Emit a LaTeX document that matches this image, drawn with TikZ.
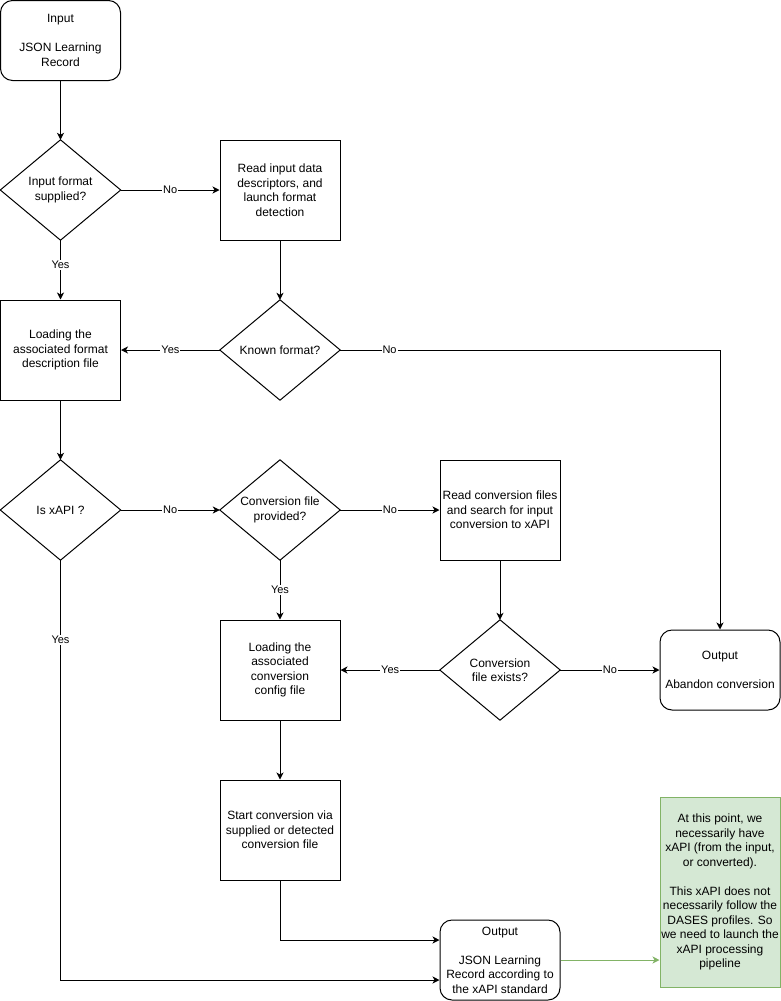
\documentclass[tikz,border=0pt]{standalone}
\usepackage{fontspec}
\setmainfont{Liberation Sans}
\usetikzlibrary{arrows.meta,calc}
\definecolor{notestroke}{HTML}{82B366}
\definecolor{notefill}{HTML}{D5E8D4}
\begin{document}
\begin{tikzpicture}[x=1pt,y=-1pt,
  every node/.style={font=\fontsize{12}{14.5}\selectfont, align=center, inner sep=0pt},
  proc/.style={draw, line width=1pt, minimum width=120pt, minimum height=100pt},
  term/.style={draw, line width=1pt, rounded corners=12pt, minimum width=120pt, minimum height=80pt},
  dec/.style={minimum width=120pt, minimum height=100pt},
  note/.style={draw=notestroke, fill=notefill, line width=1pt, minimum width=120pt, minimum height=190pt},
  lbl/.style={font=\fontsize{11}{13}\selectfont, fill=white, inner sep=1pt},
  conn/.style={line width=1pt, -{Stealth[length=7pt,width=7pt,inset=2pt]}}]
\useasboundingbox (0,0) rectangle (781,1001);

% nodes
\node[term] (inp) at (60.5,40.5) {Input\\[14.5pt]JSON Learning\\Record};
\node[dec] (d1) at (60.5,190) {Input format\\supplied?};
\node[proc] (rd1) at (280,190) {Read input data\\descriptors, and\\launch format\\detection};
\node[dec] (d2) at (280,350) {Known format?};
\node[proc] (ld1) at (60.5,350) {Loading the\\associated format\\description file};
\node[dec] (d3) at (60.5,510) {Is xAPI ?};
\node[dec] (d4) at (280,510) {Conversion file\\provided?};
\node[proc] (rd2) at (500,510) {Read conversion files\\and search for input\\conversion to xAPI};
\node[dec] (d5) at (500,670) {Conversion\\file exists?};
\node[proc] (ld2) at (280,670) {Loading the\\associated\\conversion\\config file};
\node[term] (ab) at (720,670) {Output\\[14.5pt]Abandon conversion};
\node[proc] (st) at (280,830) {Start conversion via\\supplied or detected\\conversion file};
\node[term] (out) at (500,960) {Output\\[14.5pt]JSON Learning\\Record according to\\the xAPI standard};
\node[note] (nt) at (720,892) {At this point, we\\necessarily have\\xAPI (from the input,\\or converted).\\[14.5pt]This xAPI does not\\necessarily follow the\\DASES profiles. So\\we need to launch the\\xAPI processing\\pipeline};

% diamonds
\foreach \d in {d1,d2,d3,d4,d5}
  \draw[line width=1pt] (\d.north) -- (\d.east) -- (\d.south) -- (\d.west) -- cycle;

\coordinate (o1) at ([yshift=20pt]out.west);
\coordinate (o2) at ([yshift=-20pt]out.west);

% connectors
\draw[conn] (inp.south) -- (d1.north);
\draw[conn] (d1.east) -- node[lbl]{No} (rd1.west);
\draw[conn] (d1.south) -- node[lbl,pos=0.42]{Yes} (ld1.north);
\draw[conn] (rd1.south) -- (d2.north);
\draw[conn] (d2.west) -- node[lbl]{Yes} (ld1.east);
\draw[conn] (d2.east) -- node[lbl,pos=0.13]{No} (d2.east -| ab.north) -- (ab.north);
\draw[conn] (ld1.south) -- (d3.north);
\draw[conn] (d3.east) -- node[lbl]{No} (d4.west);
\draw[conn] (d4.east) -- node[lbl]{No} (rd2.west);
\draw[conn] (d4.south) -- node[lbl]{Yes} (ld2.north);
\draw[conn] (rd2.south) -- (d5.north);
\draw[conn] (d5.west) -- node[lbl]{Yes} (ld2.east);
\draw[conn] (d5.east) -- node[lbl]{No} (ab.west);
\draw[conn] (ld2.south) -- (st.north);
\draw[conn] (st.south) |- (o1);
\draw[conn] (d3.south) -- node[lbl,pos=0.19]{Yes} (d3.south |- o2) -- (o2);
\draw[conn, draw=notestroke] (out.east) -- (out.east -| nt.west);
\end{tikzpicture}
\end{document}
